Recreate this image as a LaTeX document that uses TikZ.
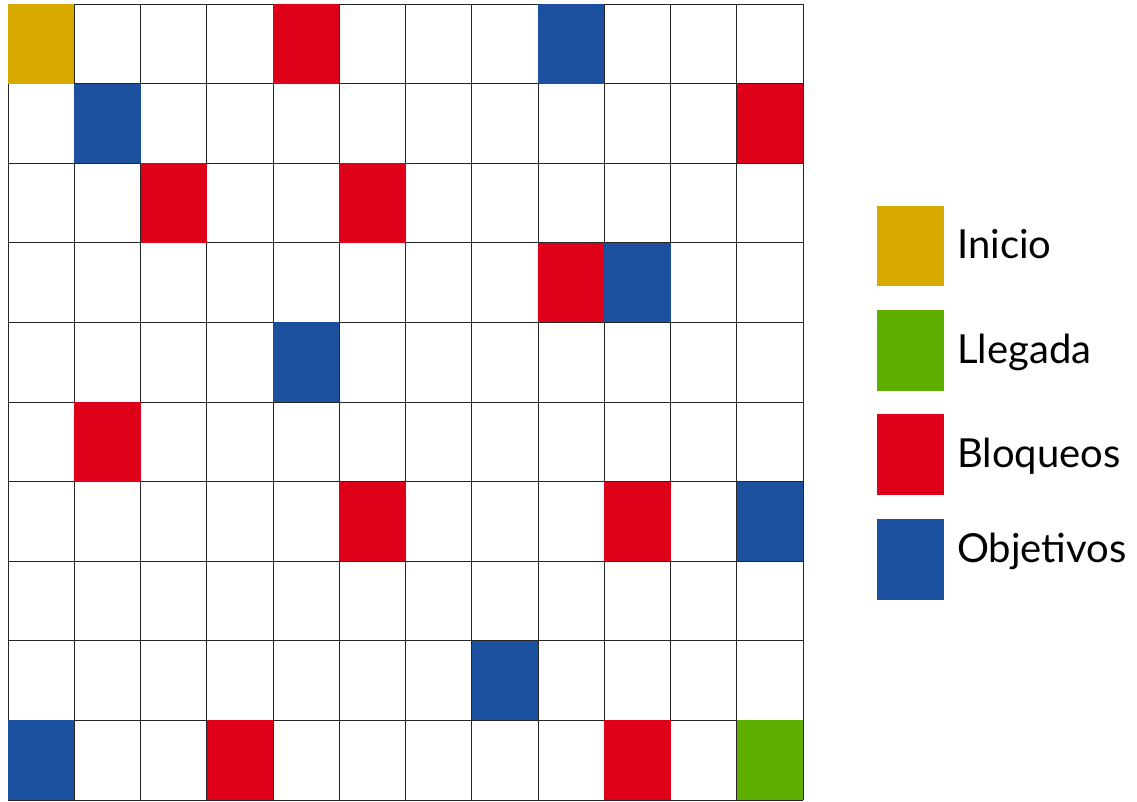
\documentclass[tikz,border=0pt]{standalone}
\usepackage{fontspec}
\setmainfont{Lato}
\definecolor{cgold}{HTML}{D8AA00}
\definecolor{cgreen}{HTML}{5EAF00}
\definecolor{cred}{HTML}{DE0019}
\definecolor{cblue}{HTML}{1A509E}
\tikzset{
  gridline/.style={draw=black!85, line width=0.9pt},
  legtext/.style={anchor=base west, inner sep=0pt, font=\fontsize{40}{40}\selectfont},
}
\begin{document}
\begin{tikzpicture}[x=1pt,y=-1pt]
\useasboundingbox (0,0) rectangle (1137,801);
\fill[white] (0,0) rectangle (1137,801);
\def\cw{66.25}
\def\rh{79.6}
% grid
\foreach \c in {0,...,12} {\draw[gridline] ({8+\cw*\c},4) -- ({8+\cw*\c},800);}
\foreach \r in {0,...,10} {\draw[gridline] (8,{4+\rh*\r}) -- (803,{4+\rh*\r});}
% coloured cells: column/row/colour
\foreach \c/\r/\col in {0/0/cgold,4/0/cred,8/0/cblue,
  1/1/cblue,11/1/cred,
  2/2/cred,5/2/cred,
  8/3/cred,9/3/cblue,
  4/4/cblue,
  1/5/cred,
  5/6/cred,9/6/cred,11/6/cblue,
  7/8/cblue,
  0/9/cblue,3/9/cred,9/9/cred,11/9/cgreen}
  {\fill[\col] ({8+\cw*\c},{4+\rh*\r}) rectangle ({8+\cw*(\c+1)},{4+\rh*(\r+1)});}
% legend
\fill[cgold]  (877,206) rectangle (944,286);
\fill[cgreen] (877,310) rectangle (944,391);
\fill[cred]   (877,414) rectangle (944,495);
\fill[cblue]  (877,519) rectangle (944,600);
\node[legtext] (l1) at (957,258) {Inicio};
\node[legtext] (l2) at (957,363) {Llegada};
\node[legtext] (l3) at (957,467) {Bloqueos};
\node[legtext] (l4) at (957,562) {Objetivos};
\end{tikzpicture}
\end{document}
